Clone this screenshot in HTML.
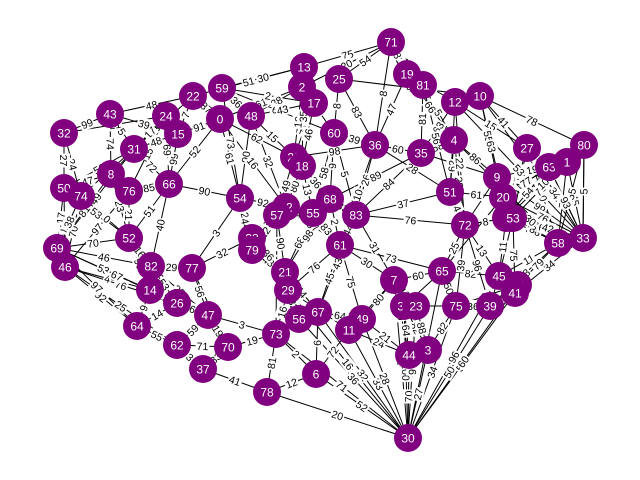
<!DOCTYPE html>
<html><head><meta charset="utf-8"><style>
html,body{margin:0;padding:0;background:#fff;}
svg{display:block;}
text{font-family:"Liberation Sans",sans-serif;}
</style></head><body>
<svg id="chart" width="640" height="480" viewBox="0 0 640 480">
<g id="edges"></g>
<g id="elabels"></g>
<g id="nodes"></g>
</svg>
<script>
const nodeIds=[71,13,25,19,81,2,17,22,59,0,48,24,15,43,32,31,12,10,60,36,35,4,27,80,63,1,28,18,8,76,66,50,74,9,20,51,54,42,57,55,68,83,16,53,72,58,33,52,38,79,61,69,46,82,77,21,29,7,65,45,40,41,14,26,34,23,75,39,47,67,56,49,11,73,64,62,70,44,3,37,6,78,30];
const nodeX=[391,304,339,407,423,302,314,193,222,220,251,166,178,110,64,134,455,480,334,375,421,454,527,584,549,567,294,302,111,129,169,64,81,497,503,450,240,286,277,313,330,356,506,513,465,558,583,129,252,252,340,57,65,151,192,285,288,394,442,499,518,515,150,177,404,416,456,490,208,318,299,362,349,276,137,177,228,409,428,203,316,267,408];
const nodeY=[42,67,79,74,85,87,103,96,88,119,116,116,134,114,133,149,102,96,133,145,153,140,148,145,167,162,157,166,174,191,184,188,196,177,197,192,198,207,215,213,199,215,218,218,225,243,238,238,238,250,245,248,267,266,268,272,290,280,271,276,285,293,290,303,306,306,306,306,315,312,319,319,330,334,326,345,347,355,350,369,374,392,438];
const edges=[[30,6],[30,11],[30,49],[30,67],[30,44],[30,3],[30,34],[30,23],[30,75],[30,39],[30,41],[30,40],[30,45],[30,7],[30,65],[30,56],[30,78],[30,73],[30,29],
[33,1],[33,63],[33,80],[33,27],[33,10],[33,12],[33,9],[33,20],[58,80],[58,27],[58,16],[58,53],[58,4],
[69,8],[69,52],[69,82],[69,14],[46,50],[46,74],[46,64],[46,26],[69,31],[46,76],
[71,13],[71,25],[71,2],[71,19],[71,81],[13,22],[13,59],[2,0],[2,48],[17,59],[25,10],[19,12],[81,4],[12,27],[10,80],[22,43],[24,32],[43,32],[31,24],[15,0],[0,54],[48,28],[59,60],[60,36],[36,35],[35,4],[28,18],[18,55],[31,50],[8,76],[66,54],[76,52],[54,42],[42,57],[55,68],[68,83],[83,61],[61,7],[51,72],[72,16],[9,20],[20,53],[63,1],[27,63],[45,40],[40,41],[39,75],[34,23],[7,34],[65,45],[52,82],[82,77],[77,38],[38,79],[79,21],[21,29],[29,56],[56,67],[67,49],[49,11],[73,70],[70,62],[62,64],[64,14],[14,26],[26,47],[47,70],[37,78],[78,6],[6,73],[44,3],[3,75],[57,21],[38,54],[36,51],[35,9],[60,83],[83,72],[12,51],[31,66],[15,66],[66,52],[8,50],[54,79],[42,61],[18,68],[28,36],[22,31],[24,8],[48,17],[32,74],[74,52],[43,15],[50,69],[0,28],[61,65],[65,72],[7,44],[34,3],[11,44],[23,39],[47,73],[37,62],[82,26],[77,47],[29,73],[67,61],[49,7],[55,61],[57,73],[16,45],[53,41],[72,39],[51,20],[4,9],[10,27],[1,53],[63,16],[80,20],
[13,17],[25,60],[19,36],[81,35],[12,35],[10,9],[4,51],[27,16],[1,58],[80,33],[63,33],[9,53],[20,58],[16,33],[53,33],[45,58],[41,33],[40,58],[39,58],[75,40],[65,7],[72,45],[51,83],[36,83],[35,68],[60,68],[17,28],[2,28],[25,36],[19,4],[59,48],[22,15],[0,66],[48,54],[24,76],[15,31],[32,50],[43,8],[31,74],[8,52],[76,66],[66,82],[54,77],[42,38],[57,79],[55,21],[68,61],[83,7],[61,29],[21,67],[29,11],[7,23],[65,75],[72,75],[34,44],[23,3],[49,44],[11,6],[67,6],[56,73],[73,78],[70,37],[47,62],[26,64],[14,52],[82,47],[77,70],[38,21],[79,57],[52,50],[74,69],[64,69],[14,46],[26,69],[62,46],[18,42],[28,57],[0,42],[59,54],[13,18],[2,60],[71,36],[81,51],[12,72],[10,20],[27,53],[80,16],[1,9],[63,20],[4,72],[35,83],[36,61],[60,55],[17,18],[48,42],[24,66],[43,31],[22,0],[55,57],[68,21],[83,67],[61,49],[7,11],[65,34],[45,39],[40,39],[41,75],[16,72],[53,45],[9,72],[20,65]];
const weights=[52,33,28,32,70,27,100,9,34,50,58,60,96,81,73,36,20,71,16,45,78,2,34,78,53,99,76,55,60,39,88,28,81,70,46,53,27,70,92,76,49,97,75,54,20,81,19,51,30,61,38,2,4,78,5,15,78,48,21,99,17,91,61,15,64,39,60,58,56,13,51,73,90,21,92,63,17,83,44,30,4,8,72,55,82,78,4,32,36,49,100,82,16,29,32,67,48,11,82,62,64,31,19,71,55,9,12,6,19,41,12,2,9,82,90,26,28,58,5,76,38,72,99,51,47,44,57,36,98,14,88,43,24,10,39,17,62,73,25,9,82,24,12,3,3,53,56,16,45,80,83,25,11,75,96,61,86,41,78,
54,97,19,8,47,81,63,55,62,45,78,5,93,100,30,65,42,11,34,79,58,94,60,13,37,26,89,9,71,18,83,66,36,7,52,90,15,48,27,74,61,23,85,40,3,57,99,68,2,31,76,44,92,17,50,39,64,88,21,72,6,46,81,33,59,14,95,28,70,86,12,53,38,97,4,67,25,80,49,16,73,35,91,8,56,22,63,41,100,19,77,29,84,10,58,46,32,69,5,87,24,98,43,75];
const R=14;
const svgNS='http://www.w3.org/2000/svg';
function px(id){return nodeX[nodeIds.indexOf(id)];}
function py(id){return nodeY[nodeIds.indexOf(id)];}
const gE=document.getElementById('edges'),gL=document.getElementById('elabels'),gN=document.getElementById('nodes');
edges.forEach((e,i)=>{
  const x1=px(e[0]),y1=py(e[0]),x2=px(e[1]),y2=py(e[1]);
  const l=document.createElementNS(svgNS,'line');
  
  
  l.setAttribute('x1',x1);l.setAttribute('y1',y1);l.setAttribute('x2',x2);l.setAttribute('y2',y2);
  l.setAttribute('stroke','#000');l.setAttribute('stroke-width','1');
  gE.appendChild(l);
  if(weights[i]!==undefined){
    const mx=(x1+x2)/2,my=(y1+y2)/2;
    let ang=Math.atan2(y2-y1,x2-x1)*180/Math.PI;
    if(ang>90)ang-=180;if(ang<-90)ang+=180;
    const g=document.createElementNS(svgNS,'g');
    
    
    g.setAttribute('transform','translate('+mx+','+my+') rotate('+ang+')');
    const s=String(weights[i]);
    const w=s.length*6+2;
    const r=document.createElementNS(svgNS,'rect');
    r.setAttribute('x',-w/2);r.setAttribute('y',-6);r.setAttribute('width',w);r.setAttribute('height',12);
    r.setAttribute('fill','#fff');
    g.appendChild(r);
    const t=document.createElementNS(svgNS,'text');
    t.setAttribute('text-anchor','middle');t.setAttribute('y',4);t.setAttribute('font-size','10.5');
    t.textContent=s;
    g.appendChild(t);
    gL.appendChild(g);
  }
});
nodeIds.forEach((id,i)=>{
  const g=document.createElementNS(svgNS,'g');
  
  
  const c=document.createElementNS(svgNS,'circle');
  c.setAttribute('cx',nodeX[i]);c.setAttribute('cy',nodeY[i]);c.setAttribute('r',R);c.setAttribute('fill','#800080');
  g.appendChild(c);
  const t=document.createElementNS(svgNS,'text');
  t.setAttribute('x',nodeX[i]);t.setAttribute('y',nodeY[i]+4.5);t.setAttribute('text-anchor','middle');
  t.setAttribute('font-size','12');t.setAttribute('fill','#fff');
  t.textContent=id;
  g.appendChild(t);
  gN.appendChild(g);
});
</script>
</body></html>
